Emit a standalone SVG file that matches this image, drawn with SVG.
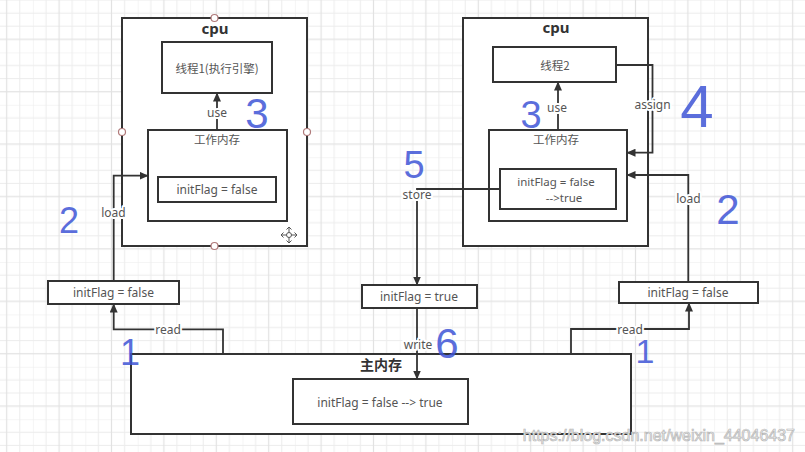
<svg xmlns="http://www.w3.org/2000/svg" width="805" height="452" viewBox="0 0 805 452">
<style>
.box{fill:#fff;stroke:#333;stroke-width:2}
.t{font-family:"Noto Sans","Noto Sans CJK SC",sans-serif;font-size:12px;fill:#555;text-anchor:middle;dominant-baseline:central}
.cn{font-family:"Noto Sans CJK SC","Noto Sans",sans-serif;font-size:11.5px;fill:#555;text-anchor:middle;dominant-baseline:central}
.h{font-family:"Noto Sans","Noto Sans CJK SC",sans-serif;font-size:15px;font-weight:bold;fill:#333;text-anchor:middle;dominant-baseline:central}
.c{fill:none;stroke:#333;stroke-width:1.8;marker-end:url(#ah)}
.lb{font-family:"Noto Sans","Noto Sans CJK SC",sans-serif;font-size:12px;fill:#555;text-anchor:middle;dominant-baseline:central;paint-order:stroke;stroke:#fff;stroke-width:4px;stroke-linejoin:round}
.hw{font-family:"Liberation Sans",sans-serif;fill:#3f55d6;text-anchor:middle;opacity:0.85}
.pt{fill:#fff;stroke:#b07a7a;stroke-width:1.2}
</style>
<defs>
<pattern id="grid" patternUnits="userSpaceOnUse" x="-19.5" y="0" width="52.4" height="52.4">
<path d="M0,0V52.4M13.1,0V52.4M26.2,0V52.4M39.3,0V52.4M0,0H52.4M0,13.1H52.4M0,26.2H52.4M0,39.3H52.4" stroke="#ececec" stroke-width="1" fill="none"/>
<path d="M26.2,0V52.4M0,39.3H52.4" stroke="#e2e2e2" stroke-width="1.2" fill="none"/>
</pattern>
<marker id="ah" viewBox="0 0 9 8" refX="8.5" refY="4" markerWidth="9" markerHeight="8" markerUnits="userSpaceOnUse" orient="auto">
<path d="M0,0L9,4L0,8z" fill="#333"/>
</marker>
</defs>
<rect width="805" height="452" fill="#fff"/>
<rect width="805" height="452" fill="url(#grid)"/>

<g id="cpu1">
<rect class="box" x="122" y="18" width="185" height="228"/>
<text class="h" x="215" y="28">cpu</text>
<circle class="pt" cx="214.5" cy="18" r="3.5"/>
<circle class="pt" cx="122" cy="132" r="3.5"/>
<circle class="pt" cx="307" cy="132" r="3.5"/>
<circle class="pt" cx="214.5" cy="246" r="3.5"/>
<g fill="none" stroke="#555" stroke-width="1">
<circle cx="289" cy="235" r="2.5"/>
<path d="M289,227.5V232.5M289,237.5V242.5M281.5,235H286.5M291.5,235H296.5"/>
<path d="M286.5,229.5L289,227L291.5,229.5M286.5,240.5L289,243L291.5,240.5M283.5,232.5L281,235L283.5,237.5M294.5,232.5L297,235L294.5,237.5"/>
</g>
</g>
<g id="thread1">
<rect class="box" x="162" y="42" width="110" height="51"/>
<text class="cn" x="217" y="68">线程1(执行引擎)</text>
</g>
<g id="wm1">
<rect class="box" x="148" y="130" width="139" height="91"/>
<text class="cn" x="217" y="139">工作内存</text>
</g>
<g id="wm1-var">
<rect class="box" x="158" y="177" width="118" height="25"/>
<text class="t" x="217" y="189.5">initFlag = false</text>
</g>

<g id="cpu2">
<rect class="box" x="463" y="18" width="185" height="228"/>
<text class="h" x="556" y="27">cpu</text>
</g>
<g id="thread2">
<rect class="box" x="493" y="47" width="123" height="35"/>
<text class="cn" x="555" y="64.5">线程2</text>
</g>
<g id="wm2">
<rect class="box" x="489" y="130" width="138" height="91"/>
<text class="cn" x="556" y="138.5">工作内存</text>
</g>
<g id="wm2-var">
<rect class="box" x="500" y="169" width="116" height="40"/>
<text class="t" x="556" y="181" style="font-size:11.5px">initFlag = false</text>
<text class="t" x="564" y="197" style="font-size:11.5px">--&gt;true</text>
</g>

<g id="copy-left">
<rect class="box" x="48" y="281" width="131" height="23"/>
<text class="t" x="113.5" y="292.5">initFlag = false</text>
</g>
<g id="copy-mid">
<rect class="box" x="362" y="285" width="115" height="23"/>
<text class="t" x="419" y="296.5">initFlag = true</text>
</g>
<g id="copy-right">
<rect class="box" x="619" y="282" width="139" height="21"/>
<text class="t" x="688" y="292.5">initFlag = false</text>
</g>

<g id="main-memory">
<rect class="box" x="131" y="354" width="500" height="80"/>
<text class="h" x="381" y="364" style="font-size:14px;font-family:'Noto Sans CJK SC',sans-serif">主内存</text>
</g>
<g id="main-var">
<rect class="box" x="293" y="379" width="175" height="45"/>
<text class="t" x="380" y="402">initFlag = false  --&gt; true</text>
</g>

<g id="connectors">
<path class="c" d="M217,130V93"/>
<path class="c" d="M113.7,281V175.7H148"/>
<path class="c" d="M223,354V329.3H113.7V304"/>
<path class="c" d="M558,130V82"/>
<path class="c" d="M616,65H652.5V152.7H627"/>
<path class="c" d="M688.3,282V175H627"/>
<path class="c" d="M571,354V329H689V303"/>
<path class="c" d="M500,189H417V285"/>
<path class="c" d="M417,308V379"/>
<text class="lb" x="217" y="112">use</text>
<text class="lb" x="113.5" y="212">load</text>
<text class="lb" x="168" y="329.5">read</text>
<text class="lb" x="557" y="107">use</text>
<text class="lb" x="652.5" y="104">assign</text>
<text class="lb" x="688.5" y="198">load</text>
<text class="lb" x="630" y="329">read</text>
<text class="lb" x="417" y="194">store</text>
<text class="lb" x="418" y="344">write</text>
</g>

<g id="annotations">
<text class="hw" x="257" y="128" font-size="42">3</text>
<text class="hw" x="69" y="233" font-size="36">2</text>
<text class="hw" x="531" y="128" font-size="38">3</text>
<text class="hw" x="697" y="127" font-size="60">4</text>
<text class="hw" x="414" y="178" font-size="38">5</text>
<text class="hw" x="728" y="224" font-size="42">2</text>
<text class="hw" x="130" y="365" font-size="36">1</text>
<text class="hw" x="447" y="358" font-size="42">6</text>
<text class="hw" x="645" y="363" font-size="34">1</text>
</g>
<text x="795" y="441" font-family="Liberation Sans,sans-serif" font-size="16" text-anchor="end" fill="#f4f4f4" stroke="#b5b5b5" stroke-width="0.7">https://blog.csdn.net/weixin_44046437</text>
</svg>
